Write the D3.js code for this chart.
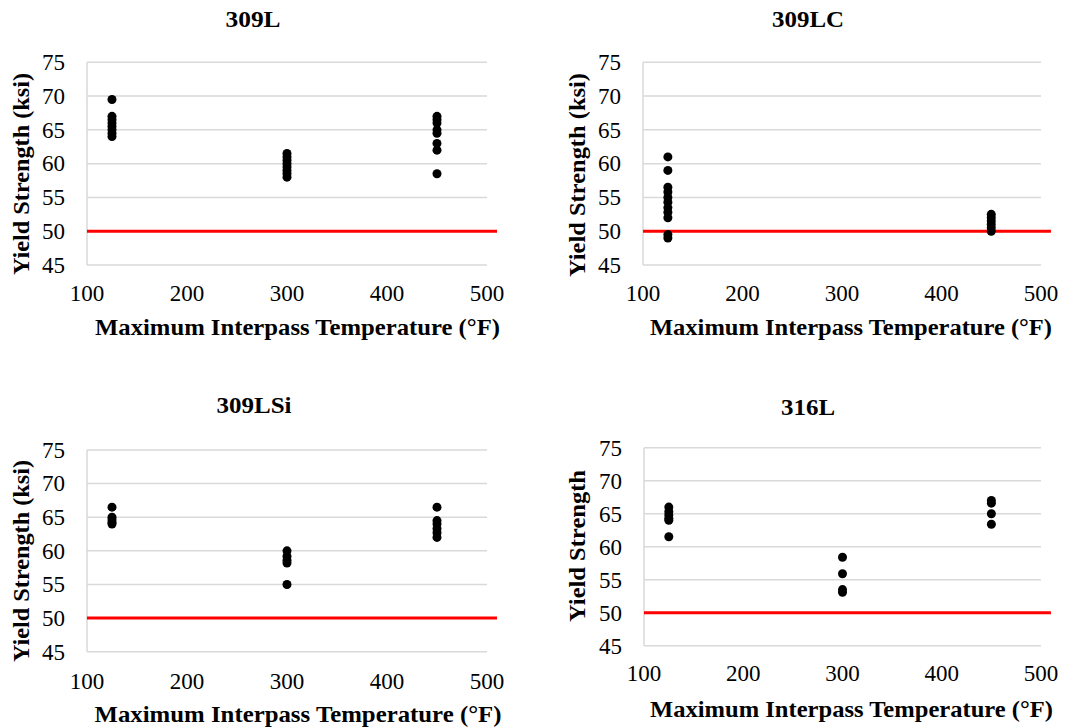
<!DOCTYPE html>
<html>
<head>
<meta charset="utf-8">
<script src="https://cdn.jsdelivr.net/npm/d3@7"></script>
<style>
  html, body { margin: 0; padding: 0; background: #fff; }
  svg { display: block; }
  svg text { font-family: "Liberation Serif", "Times New Roman", serif; }
</style>
</head>
<body>
<svg id="chart" width="1067" height="728"></svg>
<script>
// ---- data ----
const panelNames = ["309L", "309LC", "309LSi", "316L"];
const xTicks = [100, 200, 300, 400, 500];
const yTicks = [45, 50, 55, 60, 65, 70, 75];
const xDomain = [100, 500];
const yDomain = [45, 75];
const threshold = 50;
const thresholdX = [100, 510];
const xTitle = "Maximum Interpass Temperature (°F)";
const yTitles = ["Yield Strength (ksi)", "Yield Strength (ksi)", "Yield Strength (ksi)", "Yield Strength"];

const p309L_125 = [69.5, 67, 66.5, 66, 65.5, 65, 64.5, 64];
const p309L_300 = [61.5, 61, 60.5, 60, 59.5, 59, 58.5, 58];
const p309L_450 = [67, 66.5, 66, 65, 64.5, 63, 62, 58.5];

const p309LC_125 = [61, 59, 56.5, 55.8, 55, 54.3, 53.5, 52.8, 52, 49.5, 49];
const p309LC_450 = [52.5, 52, 51.5, 51, 50.5, 50];

const p309LSi_125 = [66.5, 65, 64.6, 64.2, 64];
const p309LSi_300 = [60, 59.2, 58.6, 58.2, 55];
const p309LSi_450 = [66.5, 64.5, 64, 63.3, 62.7, 62];

const p316L_125 = [66, 65.3, 64.8, 64.3, 64, 61.5];
const p316L_300 = [58.4, 55.9, 53.5, 53.1];
const p316L_450 = [67, 66.6, 65, 63.4];

const panelSeries = [
  [[125, p309L_125], [300, p309L_300], [450, p309L_450]],
  [[125, p309LC_125], [450, p309LC_450]],
  [[125, p309LSi_125], [300, p309LSi_300], [450, p309LSi_450]],
  [[125, p316L_125], [300, p316L_300], [450, p316L_450]]
];

// ---- layout (pixel geometry per panel) ----
const layout = [
  { x0: 87,  x1: 487,  yTop: 62.3,  yBot: 265,   titleX: 253, titleY: 26.5, titleW: 55, xtY: 301, xTitleX: 297.5, xTitleY: 335, xTitleW: 405, yTitleX: 29,  yTitleY: 174, yTitleW: 202 },
  { x0: 643, x1: 1041, yTop: 62.3,  yBot: 265,   titleX: 808, titleY: 26.5, titleW: 72, xtY: 301, xTitleX: 851,   xTitleY: 335, xTitleW: 402, yTitleX: 585, yTitleY: 175, yTitleW: 204 },
  { x0: 87,  x1: 487,  yTop: 450,   yBot: 651.7, titleX: 254, titleY: 413,  titleW: 75, xtY: 689, xTitleX: 298,   xTitleY: 721.5, xTitleW: 407, yTitleX: 29,  yTitleY: 561, yTitleW: 202 },
  { x0: 644, x1: 1041, yTop: 447.7, yBot: 645.7, titleX: 808, titleY: 415,  titleW: 54, xtY: 681, xTitleX: 851.5, xTitleY: 716.5, xTitleW: 403, yTitleX: 585, yTitleY: 546, yTitleW: 152 }
];

const svg = d3.select("#chart");
const gridColor = "#d9d9d9";
const fs = 23;

panelNames.forEach((name, i) => {
  const L = layout[i];
  const x = d3.scaleLinear().domain(xDomain).range([L.x0, L.x1]);
  const y = d3.scaleLinear().domain(yDomain).range([L.yBot, L.yTop]);
  const g = svg.append("g");

  // gridlines
  g.selectAll("line.grid").data(yTicks).join("line")
    .attr("class", "grid")
    .attr("x1", x(xDomain[0])).attr("x2", x(xDomain[1]))
    .attr("y1", d => y(d)).attr("y2", d => y(d))
    .attr("stroke", gridColor).attr("stroke-width", 1.5);
  // left axis line
  g.append("line")
    .attr("x1", x(xDomain[0])).attr("x2", x(xDomain[0]))
    .attr("y1", y(yDomain[0])).attr("y2", y(yDomain[1]))
    .attr("stroke", gridColor).attr("stroke-width", 1.5);

  // y tick labels
  g.selectAll("text.ytick").data(yTicks).join("text")
    .attr("class", "ytick")
    .attr("x", x(xDomain[0]) - 22)
    .attr("y", d => y(d))
    .attr("dy", "0.34em")
    .attr("text-anchor", "end")
    .attr("font-size", fs)
    .attr("fill", "#000")
    .text(d => d);

  // x tick labels
  g.selectAll("text.xtick").data(xTicks).join("text")
    .attr("class", "xtick")
    .attr("x", d => x(d))
    .attr("y", L.xtY)
    .attr("text-anchor", "middle")
    .attr("font-size", fs)
    .attr("fill", "#000")
    .text(d => d);

  // threshold line
  const line = d3.line().x(d => x(d)).y(() => y(threshold));
  g.append("path")
    .attr("d", line(thresholdX))
    .attr("fill", "none")
    .attr("stroke", "#ff0000")
    .attr("stroke-width", 3);

  // points
  const pts = [];
  panelSeries[i].forEach(([t, vals]) => vals.forEach(v => pts.push({ t, v })));
  g.selectAll("circle").data(pts).join("circle")
    .attr("cx", d => x(d.t))
    .attr("cy", d => y(d.v))
    .attr("r", 4.5)
    .attr("fill", "#000");

  // panel title
  g.append("text")
    .attr("x", L.titleX).attr("y", L.titleY)
    .attr("text-anchor", "middle")
    .attr("font-size", fs).attr("font-weight", "bold")
    .attr("textLength", L.titleW).attr("lengthAdjust", "spacingAndGlyphs")
    .text(name);

  // x axis title
  g.append("text")
    .attr("x", L.xTitleX).attr("y", L.xTitleY)
    .attr("text-anchor", "middle")
    .attr("font-size", fs).attr("font-weight", "bold")
    .attr("textLength", L.xTitleW).attr("lengthAdjust", "spacingAndGlyphs")
    .text(xTitle);

  // y axis title
  g.append("text")
    .attr("transform", `translate(${L.yTitleX},${L.yTitleY}) rotate(-90)`)
    .attr("text-anchor", "middle")
    .attr("font-size", fs).attr("font-weight", "bold")
    .attr("textLength", L.yTitleW).attr("lengthAdjust", "spacingAndGlyphs")
    .text(yTitles[i]);
});
</script>
</body>
</html>
